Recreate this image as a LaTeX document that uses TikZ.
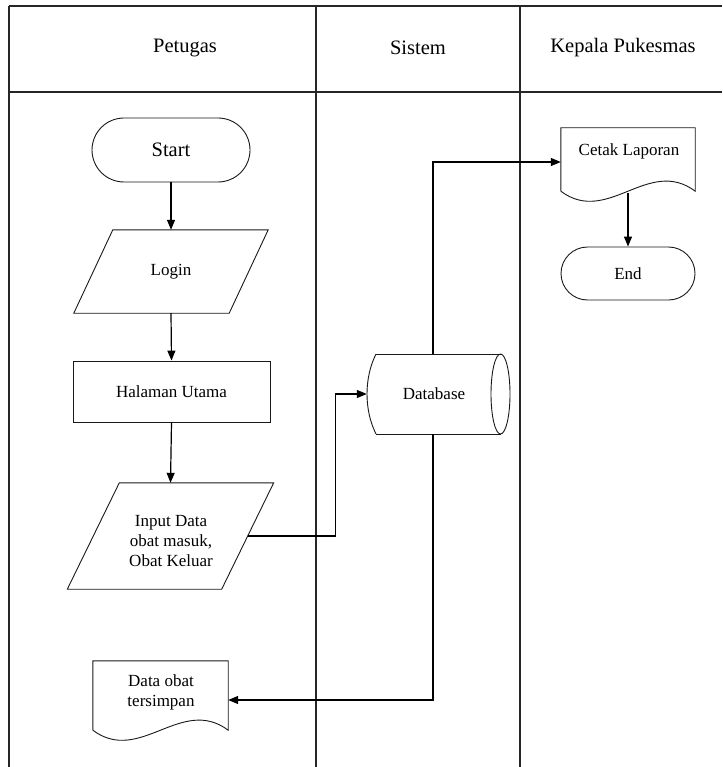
\documentclass[tikz,border=0pt]{standalone}
\usepackage{fontspec}
\setmainfont{Liberation Serif}
\usetikzlibrary{shapes.misc,arrows.meta,calc}
\begin{document}
\begin{tikzpicture}[x=1pt,y=-1pt,
  frame/.style={line width=1.3pt,black!85},
  outline/.style={draw=black!90,line width=0.9pt},
  conn/.style={line width=1.2pt,black},
  arr/.style={conn,-{Triangle[length=10pt,width=8pt]}},
  txt/.style={font=\fontsize{17}{20}\selectfont,align=center,inner sep=0pt},
  head/.style={font=\fontsize{20.5}{24}\selectfont,inner sep=0pt},
  box/.style={rectangle,draw=none,inner sep=0pt},
  terminal/.style={rounded rectangle,outline,inner sep=0pt},
  procbox/.style={rectangle,outline,inner sep=0pt}]
\useasboundingbox (0,0) rectangle (722,767);
\fill[white] (0,0) rectangle (722,767);
% swimlane frame
\draw[frame] (9,6) -- (722,6);
\draw[frame] (9,92) -- (722,92);
\draw[frame] (9,6) -- (9,767);
\draw[frame] (316,6) -- (316,767);
\draw[frame] (520,6) -- (520,767);
\node[head] (h1) at (185,48) {Petugas};
\node[head] (h2) at (418,48) {Sistem};
\node[head] (h3) at (623,48) {Kepala Pukesmas};
% nodes
\node[terminal,minimum width=158pt,minimum height=64pt,font=\fontsize{20.5}{24}\selectfont] (start) at (171,150) {Start};
\node[box,txt,minimum width=155pt,minimum height=83pt] (login) at (171,271.5) {Login};
\draw[outline] ($(login.north west)+(19.5,0)$) -- ($(login.north east)+(19.5,0)$) -- ($(login.south east)+(-19.5,0)$) -- ($(login.south west)+(-19.5,0)$) -- cycle;
\node[procbox,txt,minimum width=197pt,minimum height=61pt] (home) at (171.5,391.5) {Halaman Utama};
\node[box,minimum width=154pt,minimum height=106pt] (input) at (170.5,536) {};
\draw[outline] ($(input.north west)+(26,0)$) -- ($(input.north east)+(26,0)$) -- ($(input.south east)+(-26,0)$) -- ($(input.south west)+(-26,0)$) -- cycle;
\node[txt] (inputt) at (171,541) {Input Data\\obat masuk,\\Obat Keluar};
% database
\node[box,minimum width=143pt,minimum height=80pt] (db) at (438.5,394) {};
\draw[outline] (376,354) -- (500.5,354);
\draw[outline] (376,434) -- (500.5,434);
\draw[outline] (376,354) .. controls (364,378) and (364,410) .. (376,434);
\draw[outline] (500.5,394) ellipse [x radius=9.5pt,y radius=40pt];
\node[txt] (dbt) at (434,394) {Database};
% data obat tersimpan
\node[box,minimum width=135pt,minimum height=69pt] (data) at (160.5,695.5) {};
\draw[outline] (data.south west) -- (data.north west) -- (data.north east) -- (data.south east)
  .. controls ($(data.south east)+(-47,-35)$) and ($(data.south west)+(47,35)$) .. (data.south west);
\node[txt] (datat) at (161,692) {Data obat\\tersimpan};
% cetak laporan
\node[box,minimum width=134pt,minimum height=63pt] (cetak) at (628,159.5) {};
\draw[outline] (cetak.south west) -- (cetak.north west) -- (cetak.north east) -- (cetak.south east)
  .. controls ($(cetak.south east)+(-47,-35)$) and ($(cetak.south west)+(47,35)$) .. (cetak.south west);
\node[txt] (cetakt) at (629,151) {Cetak Laporan};
\node[terminal,txt,minimum width=134pt,minimum height=53pt] (end) at (628,273.5) {End};
% connectors
\draw[arr] (start.south) -- (login.north);
\draw[arr] (login.south) -- (home.north);
\draw[arr] (home.south) -- (input.north);
\draw[arr] (input.east) -- ++(88,0) |- (db.west);
\draw[arr] ($(db.north)+(-5.5,0)$) |- ($(cetak.west)+(0,2.5)$);
\draw[arr] ($(db.south)+(-5.5,0)$) |- ($(data.east)+(0,4.5)$);
\draw[arr] ($(cetak.south)+(0,2)$) -- (end.north);
\end{tikzpicture}
\end{document}
